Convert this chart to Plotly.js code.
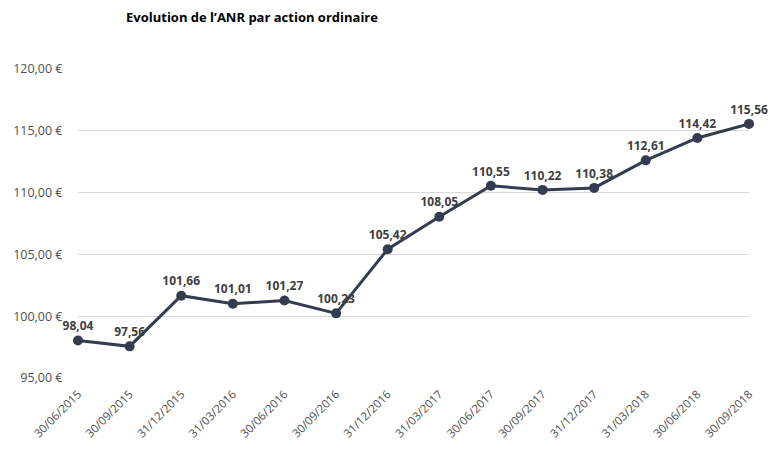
<!DOCTYPE html>
<html>
<head>
<meta charset="utf-8">
<script src="https://cdn.plot.ly/plotly-3.0.1.min.js"></script>
<style>html,body{margin:0;padding:0;background:#fff}#chart{width:775px;height:452px}</style>
</head>
<body>
<div id="chart"></div>
<script>
const dates = ["30/06/2015","30/09/2015","31/12/2015","31/03/2016","30/06/2016","30/09/2016","31/12/2016","31/03/2017","30/06/2017","30/09/2017","31/12/2017","31/03/2018","30/06/2018","30/09/2018"];
const anr = [98.04,97.56,101.66,101.01,101.27,100.23,105.42,108.05,110.55,110.22,110.38,112.61,114.42,115.56];
const yTickVals = [95,100,105,110,115,120];
const yTickText = ["95,00 €","100,00 €","105,00 €","110,00 €","115,00 €","120,00 €"];
const titleText = "Evolution de l’ANR par action ordinaire";

const fmt = v => v.toFixed(2).replace('.', ',');

const trace = {
  x: dates.map((d,i)=>i),
  y: anr,
  type: 'scatter',
  mode: 'lines+markers+text',
  line: {color: '#333d4f', width: 3},
  marker: {color: '#333d4f', size: 10},
  text: anr.map(fmt),
  textposition: 'top center',
  textfont: {family: 'Open Sans, sans-serif', size: 12, color: '#404040', weight: 'bold'},
  cliponaxis: false,
  hoverinfo: 'none'
};

const layout = {
  width: 775, height: 452,
  margin: {l: 78, r: 26, t: 69, b: 74},
  paper_bgcolor: '#fff', plot_bgcolor: '#fff',
  showlegend: false,
  title: {text: titleText, x: 126/775, xanchor: 'left', xref: 'container', y: 1 - 17/452, yanchor: 'middle', yref: 'container',
          font: {family: 'Open Sans, sans-serif', size: 13, color: '#000', weight: 'bold'}},
  xaxis: {
    range: [0, dates.length - 1],
    tickmode: 'array', tickvals: dates.map((d,i)=>i), ticktext: dates,
    tickangle: -45, showgrid: false, zeroline: false, showline: false,
    ticks: 'outside', ticklen: 4, tickcolor: 'rgba(0,0,0,0)',
    tickfont: {family: 'Open Sans, sans-serif', size: 11.5, color: '#4f4f4f'}
  },
  yaxis: {
    range: [95, 120],
    tickmode: 'array', tickvals: yTickVals, ticktext: yTickText,
    showgrid: true, gridcolor: '#d9d9d9', gridwidth: 1, zeroline: false, showline: false,
    ticks: 'outside', ticklen: 12, tickcolor: 'rgba(0,0,0,0)',
    tickfont: {family: 'Open Sans, sans-serif', size: 12.5, color: '#4f4f4f'}
  }
};

Plotly.newPlot('chart', [trace], layout, {displayModeBar: false, staticPlot: true});
</script>
</body>
</html>
